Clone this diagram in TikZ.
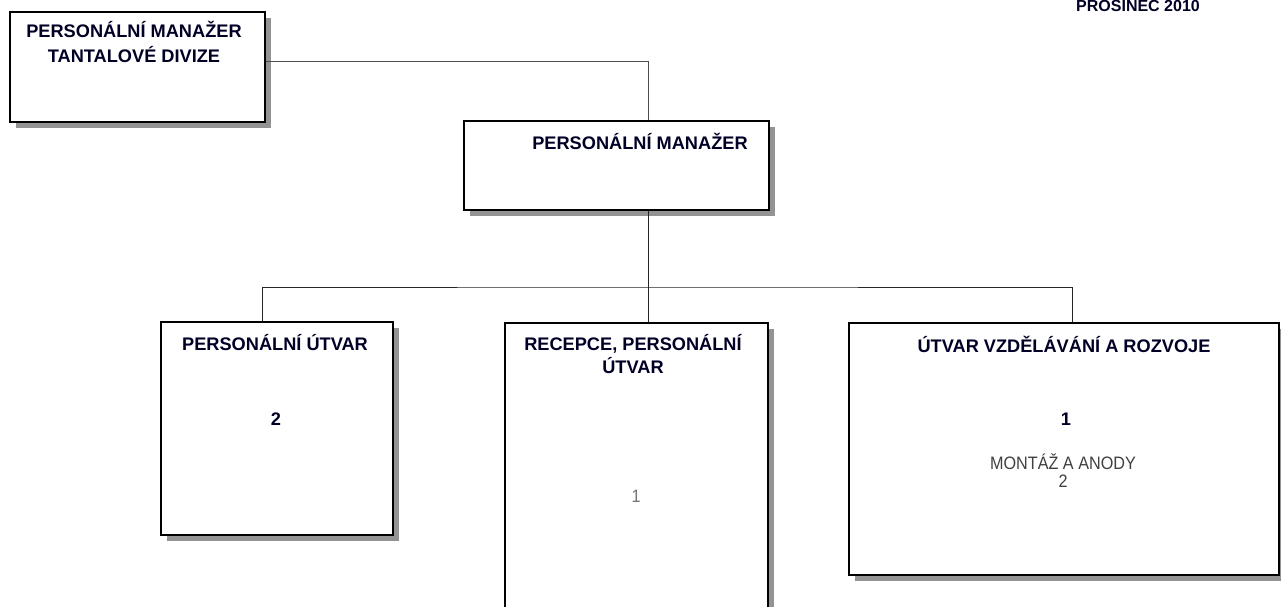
\documentclass[tikz,border=0pt]{standalone}
\usepackage{fontspec}
\setmainfont{Liberation Sans}
\newfontfamily\narrowfont{Liberation Sans}[FakeStretch=0.9]
\usetikzlibrary{shadows}

\tikzset{
  orgbox/.style={draw=black, line width=1.3pt, fill=white, inner sep=0pt,
    drop shadow={shadow xshift=6pt, shadow yshift=-6pt, fill=gray!85, opacity=1}},
  conn/.style={line width=0.9pt, black!85},
  title/.style={font=\fontsize{18.2}{25}\selectfont\bfseries, text=black!85!blue, anchor=base, align=center, inner sep=0pt},
  count/.style={font=\narrowfont\fontsize{18}{17.5}\selectfont, text=black!75, anchor=base, align=center, inner sep=0pt}
}

\begin{document}
\begin{tikzpicture}[x=1pt,y=-1pt]
\useasboundingbox (0,0) rectangle (1281,607);
\clip (0,0) rectangle (1281,607);
\fill[white] (0,0) rectangle (1281,607);

% boxes
\node[orgbox, minimum width=255pt, minimum height=110pt] (divize) at (137.5,67) {};
\node[orgbox, minimum width=305pt, minimum height=89pt] (manazer) at (616.5,165.5) {};
\node[orgbox, minimum width=232pt, minimum height=213pt] (utvar) at (277,428.5) {};
\node[orgbox, minimum width=263pt, minimum height=302pt] (recepce) at (636.5,474) {};
\node[orgbox, minimum width=430pt, minimum height=252pt] (rozvoj) at (1064,449) {};

% texts
\node[title, font=\fontsize{16}{20}\selectfont\bfseries] (datum) at (1138,12) {PROSINEC 2010};
\node[title] (tdivize) at (134,63) {PERSONÁLNÍ MANAŽER\\TANTALOVÉ DIVIZE};
\node[title] (tmanazer) at (640,149) {PERSONÁLNÍ MANAŽER};
\node[title] (tutvar) at (275,350) {PERSONÁLNÍ ÚTVAR};
\node[title] (nutvar) at (276,425) {2};
\node[title, font=\fontsize{18.2}{23}\selectfont\bfseries] (trecepce) at (633,373) {RECEPCE, PERSONÁLNÍ\\ÚTVAR};
\node[count, text=black!55] (nrecepce) at (636,502) {1};
\node[title] (trozvoj) at (1064,352) {ÚTVAR VZDĚLÁVÁNÍ A ROZVOJE};
\node[title] (nrozvoj) at (1066,425) {1};
\node[count] (montaz) at (1063,487) {MONTÁŽ A ANODY\\2};

% connectors
\coordinate (bus) at (648,287);
\draw[line width=0.7pt, black!70] ([yshift=6pt]divize.east) -| ([xshift=31.5pt]manazer.north);
\draw[conn] ([xshift=31.5pt]manazer.south) -- (bus);
\draw[conn] ([xshift=-15pt]utvar.north) |- (bus) -| ([xshift=8pt]rozvoj.north);
\draw[conn] (bus) -- ([xshift=11.5pt]recepce.north);
\end{tikzpicture}
\end{document}
